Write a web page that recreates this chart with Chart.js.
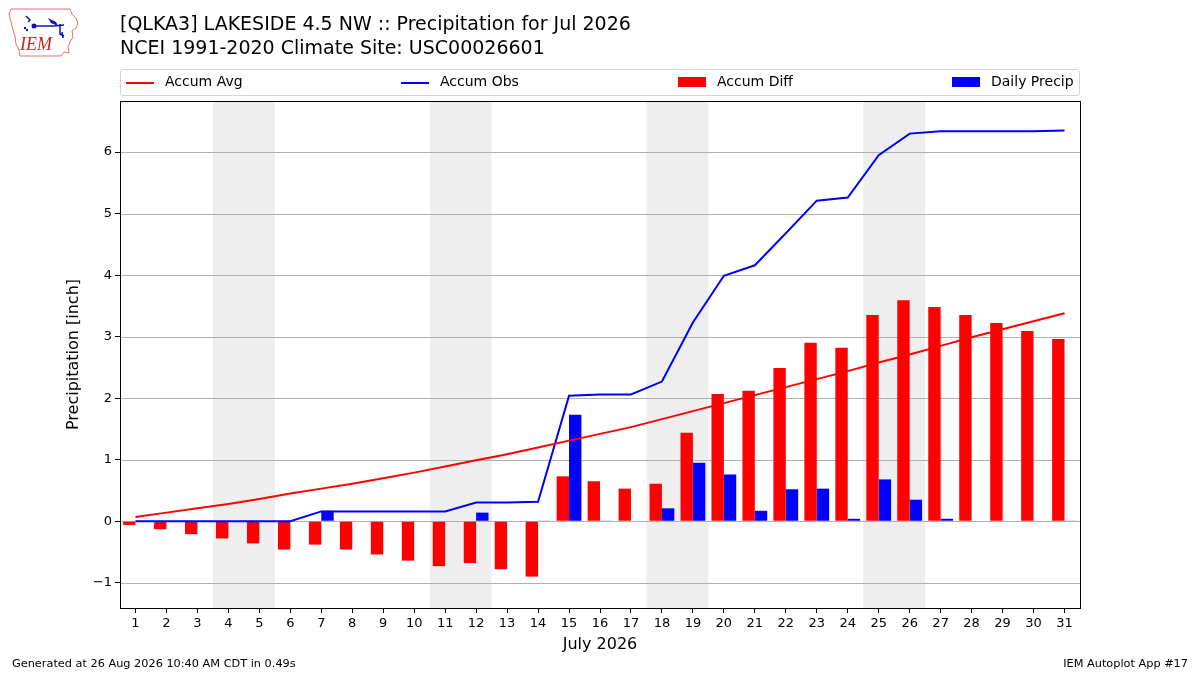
<!DOCTYPE html>
<html>
<head>
<meta charset="utf-8">
<script src="https://cdn.jsdelivr.net/npm/chart.js@4.4.1/dist/chart.umd.min.js"></script>
<style>
  html, body { margin: 0; padding: 0; background: #fff; }
  #wrap { position: relative; width: 1200px; height: 675px; font-family: "DejaVu Sans", sans-serif; color: #000; }
  canvas { position: absolute; left: 0; top: 0; }
  .title { position: absolute; left: 120px; font-size: 19px; white-space: nowrap; }
  .foot { position: absolute; top: 657px; font-size: 11.3px; white-space: nowrap; }
  #legend { position: absolute; left: 120px; top: 69px; width: 958px; height: 25px; border: 1px solid #d4d4d4; border-radius: 3px; background: rgba(255,255,255,0.8); font-size: 14px; }
  .item { position: absolute; top: 3px; height: 17px; line-height: 17px; }
  .line { position: absolute; top: 9px; width: 28px; height: 2px; }
  .patch { position: absolute; top: 4px; width: 28px; height: 10px; }
  .lab { position: absolute; left: 39px; top: 0; white-space: nowrap; }
  #logo { position: absolute; left: 6px; top: 4px; }
</style>
</head>
<body>
<div id="wrap">
  <canvas id="myChart" width="1200" height="675"></canvas>
  <svg id="logo" width="76" height="56" viewBox="0 0 76 56">
    <path d="M5 5 L64 5 L66 10 L70 14 L72 20 L70 24 L66 27 L67 33 L64 38 L62 43 L63 49 L58 48 L55 52 L14 52 L13 46 L10 40 L9 32 L7 26 L5 18 L3 10 Z" fill="none" stroke="#e07070" stroke-width="1"/>
    <path d="M20 12 L24 16 L22 18 M26 21 L28 22 L48 22 L58 21" fill="none" stroke="#1010c0" stroke-width="1.5"/>
    <circle cx="28" cy="22" r="2.5" fill="#1010c0"/>
    <path d="M42 14 L50 18 L52 22 L45 19 Z" fill="#1010c0"/>
    <path d="M54 20 L54 30 L58 32 M56 28 L57 34" fill="none" stroke="#1010c0" stroke-width="1.5"/>
    <circle cx="19" cy="24" r="1.2" fill="#1010c0"/>
    <circle cx="21" cy="26" r="1.2" fill="#1010c0"/>
    <text x="14" y="46" font-family="Liberation Serif, serif" font-style="italic" font-size="18" fill="#d02020">IEM</text>
  </svg>
  <div class="title" style="top:12px">[QLKA3] LAKESIDE 4.5 NW :: Precipitation for Jul 2026</div>
  <div class="title" style="top:36px">NCEI 1991-2020 Climate Site: USC00026601</div>
  <div id="legend">
    <div class="item" style="left:5px"><div class="line" style="background:#ff0000"></div><div class="lab">Accum Avg</div></div>
    <div class="item" style="left:280px"><div class="line" style="background:#0000ff"></div><div class="lab">Accum Obs</div></div>
    <div class="item" style="left:557px"><div class="patch" style="background:#ff0000"></div><div class="lab">Accum Diff</div></div>
    <div class="item" style="left:831px"><div class="patch" style="background:#0000ff"></div><div class="lab">Daily Precip</div></div>
  </div>
  <div class="foot" style="left:12px">Generated at 26 Aug 2026 10:40 AM CDT in 0.49s</div>
  <div class="foot" style="right:12px">IEM Autoplot App #17</div>
</div>
<script>
// days of July 2026
const days = Array.from({ length: 31 }, (_, i) => String(i + 1));

// values (inches)
const accumAvg = [0.07, 0.14, 0.21, 0.28, 0.36, 0.45, 0.53, 0.61, 0.70, 0.79, 0.89, 0.99, 1.09, 1.20, 1.31,
  1.42, 1.53, 1.66, 1.79, 1.92, 2.05, 2.18, 2.31, 2.44, 2.58, 2.71, 2.85, 2.99, 3.12, 3.25, 3.38];
const accumObs = [0, 0, 0, 0, 0, 0, 0.16, 0.16, 0.16, 0.16, 0.16, 0.305, 0.305, 0.316, 2.04,
  2.06, 2.06, 2.27, 3.23, 3.99, 4.16, 4.68, 5.21, 5.26, 5.95, 6.30, 6.34, 6.34, 6.34, 6.34, 6.35];
const accumDiff = [-0.06, -0.13, -0.21, -0.28, -0.36, -0.46, -0.38, -0.46, -0.54, -0.64, -0.73, -0.68, -0.78, -0.90, 0.73,
  0.65, 0.53, 0.61, 1.44, 2.07, 2.12, 2.49, 2.90, 2.82, 3.35, 3.59, 3.48, 3.35, 3.22, 3.09, 2.96];
const dailyPrecip = [0, 0, 0, 0, 0, 0, 0.17, 0, 0, 0, 0, 0.14, 0, 0.01, 1.73,
  0.01, 0, 0.21, 0.95, 0.76, 0.17, 0.52, 0.53, 0.04, 0.68, 0.35, 0.04, 0, 0, 0, 0.01];
const yTicks = [-1, 0, 1, 2, 3, 4, 5, 6];
// weekend spans (day indices, Sat..Sun)
const weekends = [[4, 5], [11, 12], [18, 19], [25, 26]];

const weekendShade = {
  id: 'weekendShade',
  beforeDatasetsDraw(chart) {
    const { ctx, chartArea, scales } = chart;
    const half = (scales.x.getPixelForValue(1) - scales.x.getPixelForValue(0)) / 2;
    ctx.save();
    ctx.fillStyle = '#eeeeee';
    weekends.forEach(([a, b]) => {
      const x0 = scales.x.getPixelForValue(a - 1) - half;
      const x1 = scales.x.getPixelForValue(b - 1) + half;
      ctx.fillRect(x0, chartArea.top, x1 - x0, chartArea.bottom - chartArea.top);
    });
    ctx.restore();
  }
};

// grid lines drawn under the shading would vanish, so redraw them on top of it
const gridOver = {
  id: 'gridOver',
  beforeDatasetsDraw(chart) {
    const { ctx, chartArea, scales } = chart;
    ctx.save();
    ctx.strokeStyle = '#b0b0b0';
    ctx.lineWidth = 1;
    yTicks.forEach(v => {
      const y = Math.round(scales.y.getPixelForValue(v)) + 0.5;
      ctx.beginPath();
      ctx.moveTo(chartArea.left, y);
      ctx.lineTo(chartArea.right, y);
      ctx.stroke();
    });
    ctx.restore();
  },
  afterDraw(chart) {
    const { ctx, chartArea } = chart;
    ctx.save();
    ctx.strokeStyle = '#000';
    ctx.lineWidth = 1;
    ctx.strokeRect(Math.round(chartArea.left) + 0.5, Math.round(chartArea.top) + 0.5,
      Math.round(chartArea.right - chartArea.left), Math.round(chartArea.bottom - chartArea.top));
    ctx.restore();
  }
};

const ctx = document.getElementById('myChart').getContext('2d');
new Chart(ctx, {
  data: {
    labels: days,
    datasets: [
      { type: 'line', label: 'Accum Avg', data: accumAvg, borderColor: '#ff0000', borderWidth: 2, pointRadius: 0, tension: 0, order: 0 },
      { type: 'line', label: 'Accum Obs', data: accumObs, borderColor: '#0000ff', borderWidth: 2, pointRadius: 0, tension: 0, order: 0 },
      { type: 'bar', label: 'Accum Diff', data: accumDiff, backgroundColor: '#ff0000', categoryPercentage: 0.8, barPercentage: 1.0, order: 1 },
      { type: 'bar', label: 'Daily Precip', data: dailyPrecip, backgroundColor: '#0000ff', categoryPercentage: 0.8, barPercentage: 1.0, order: 1 }
    ]
  },
  options: {
    responsive: false,
    animation: false,
    devicePixelRatio: 1,
    layout: { padding: { left: 64, right: 120, top: 101, bottom: 21 } },
    plugins: {
      legend: { display: false },
      tooltip: { enabled: false }
    },
    scales: {
      x: {
        offset: true,
        grid: { drawOnChartArea: false, offset: false, tickLength: 5, color: '#000', tickColor: '#000' },
        border: { display: true, color: '#000' },
        ticks: { color: '#000', font: { family: 'DejaVu Sans', size: 13 }, padding: 3, maxRotation: 0, autoSkip: false },
        title: { display: true, text: 'July 2026', color: '#000', font: { family: 'DejaVu Sans', size: 16 }, padding: { top: 0, bottom: 0 } },
        afterFit(scale) { scale.height = 46; }
      },
      y: {
        min: -1.41,
        max: 6.83,
        grid: { display: true, drawOnChartArea: false, tickLength: 5, color: '#b0b0b0', tickColor: '#000' },
        border: { display: true, color: '#000' },
        afterBuildTicks(scale) { scale.ticks = yTicks.map(v => ({ value: v })); },
        ticks: {
          color: '#000', font: { family: 'DejaVu Sans', size: 13 }, padding: 3,
          callback: v => (v < 0 ? '\u2212' + Math.abs(v) : String(v))
        },
        title: { display: true, text: 'Precipitation [inch]', color: '#000', font: { family: 'DejaVu Sans', size: 16 }, padding: { top: 0, bottom: 0 } },
        afterFit(scale) { scale.width = 56; }
      }
    }
  },
  plugins: [weekendShade, gridOver]
});
</script>
</body>
</html>
